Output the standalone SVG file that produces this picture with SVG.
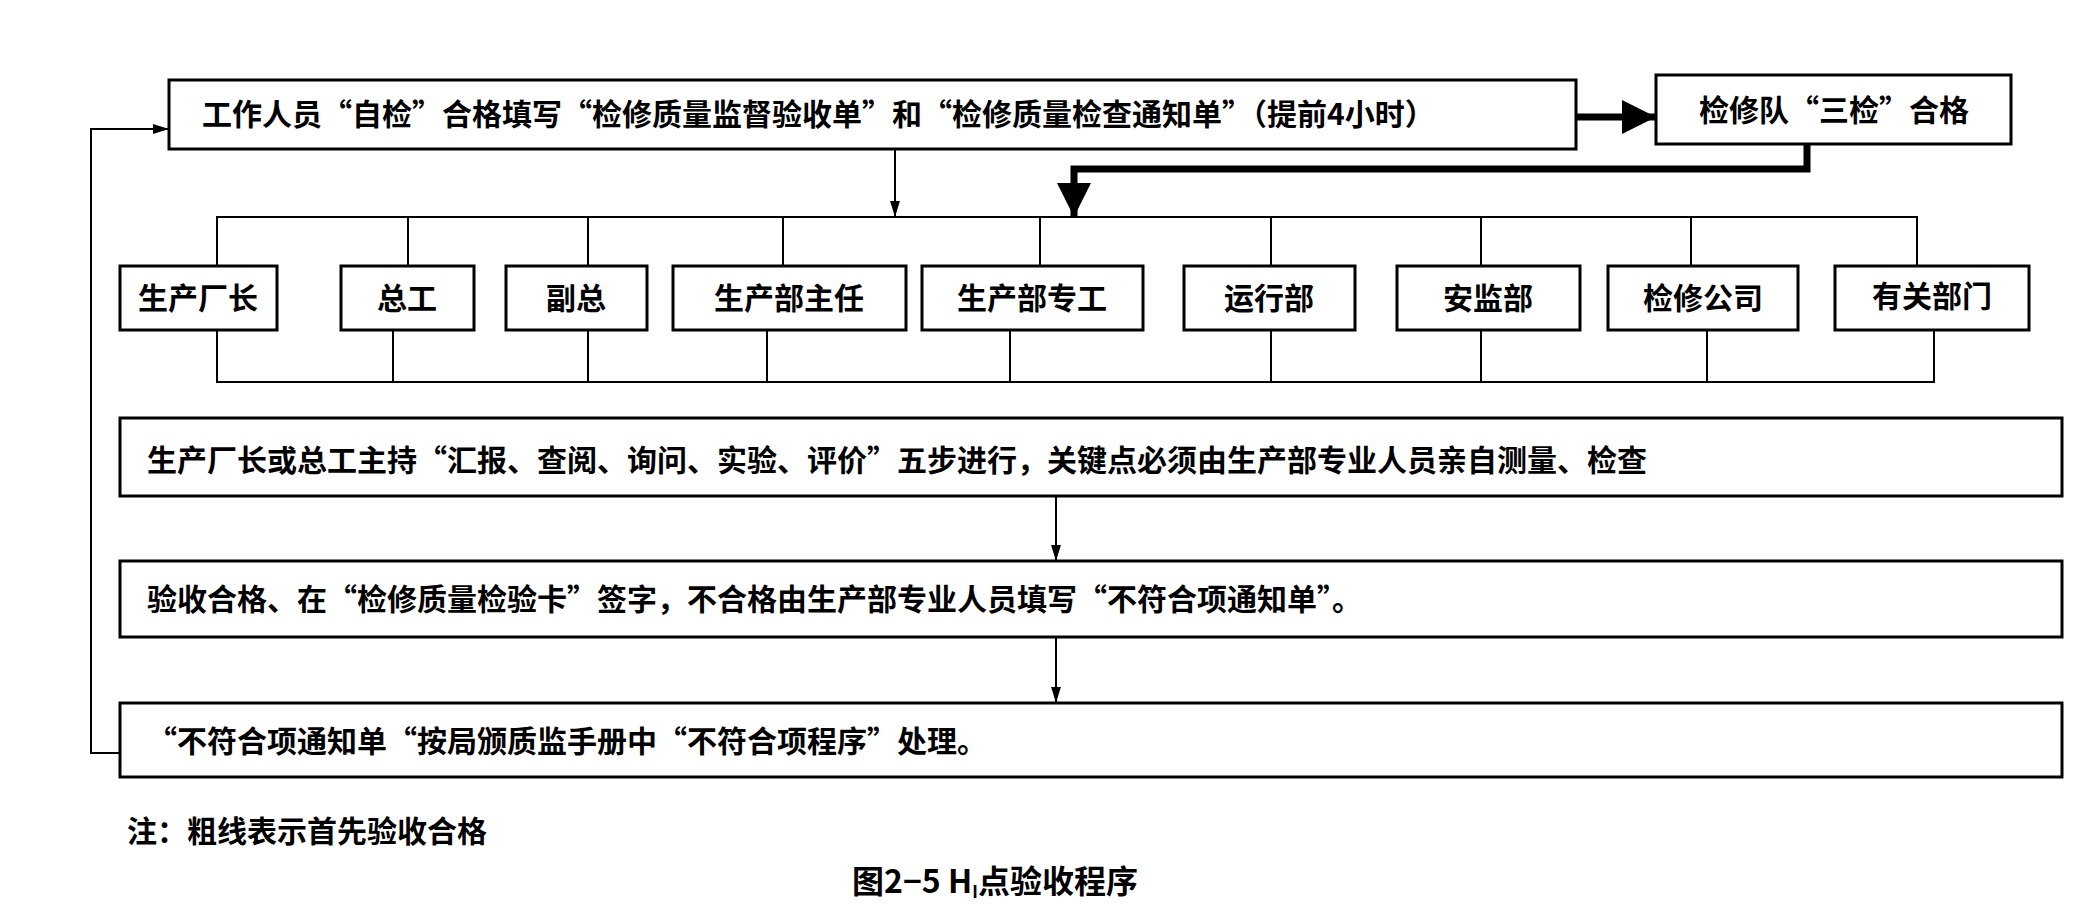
<svg xmlns="http://www.w3.org/2000/svg" width="2088" height="909" viewBox="0 0 2088 909">
<defs>
<style>
.b{fill:#fff;stroke:#000;stroke-width:3}
.t{font-family:"Noto Sans CJK SC",sans-serif;font-weight:bold;font-size:30px;fill:#000}
.c{text-anchor:middle}
.l{fill:none;stroke:#000;stroke-width:2}
.k{fill:none;stroke:#000;stroke-width:7}
</style>
<marker id="a" markerWidth="16" markerHeight="26" refX="26" refY="8" orient="auto" markerUnits="userSpaceOnUse" viewBox="0 0 26 16"><path d="M0,0L26,8L0,16z"/></marker>
<marker id="A" markerWidth="34" markerHeight="34" refX="34" refY="17" orient="auto" markerUnits="userSpaceOnUse" viewBox="0 0 34 34"><path d="M0,0L34,17L0,34z"/></marker>
</defs>
<g id="connectors">
<path class="l" d="M895,149V217" marker-end="url(#a)"/>
<path class="k" d="M1576,117H1656" marker-end="url(#A)"/>
<path class="k" d="M1807,144V169H1074V217" marker-end="url(#A)"/>
<path class="l" d="M217,266V217H1917V266M408,217V266M588,217V266M783,217V266M1040,217V266M1271,217V266M1481,217V266M1691,217V266"/>
<path class="l" d="M217,330V382H1934V330M393,330V382M588,330V382M767,330V382M1010,330V382M1271,330V382M1481,330V382M1707,330V382"/>
<path class="l" d="M1056,496V561" marker-end="url(#a)"/>
<path class="l" d="M1056,637V703" marker-end="url(#a)"/>
<path class="l" d="M120,753H91V129H169" marker-end="url(#a)"/>
</g>
<g id="n1"><rect class="b" x="169" y="80" width="1407" height="69"/><text class="t" x="202" y="125">工作人员“自检”合格填写“检修质量监督验收单”和“检修质量检查通知单”（提前4小时）</text></g>
<g id="n2"><rect class="b" x="1656" y="75" width="355" height="69"/><text class="t c" x="1834" y="121">检修队“三检”合格</text></g>
<g id="d1"><rect class="b" x="120" y="266" width="157" height="64"/><text class="t c" x="198" y="309">生产厂长</text></g>
<g id="d2"><rect class="b" x="341" y="266" width="133" height="64"/><text class="t c" x="407" y="309">总工</text></g>
<g id="d3"><rect class="b" x="506" y="266" width="141" height="64"/><text class="t c" x="576" y="309">副总</text></g>
<g id="d4"><rect class="b" x="673" y="266" width="233" height="64"/><text class="t c" x="789" y="309">生产部主任</text></g>
<g id="d5"><rect class="b" x="922" y="266" width="221" height="64"/><text class="t c" x="1032" y="309">生产部专工</text></g>
<g id="d6"><rect class="b" x="1184" y="266" width="171" height="64"/><text class="t c" x="1269" y="309">运行部</text></g>
<g id="d7"><rect class="b" x="1397" y="266" width="183" height="64"/><text class="t c" x="1488" y="309">安监部</text></g>
<g id="d8"><rect class="b" x="1608" y="266" width="190" height="64"/><text class="t c" x="1703" y="309">检修公司</text></g>
<g id="d9"><rect class="b" x="1835" y="266" width="194" height="64"/><text class="t c" x="1932" y="307">有关部门</text></g>
<g id="n3"><rect class="b" x="120" y="418" width="1942" height="78"/><text class="t" x="147" y="471">生产厂长或总工主持“汇报、查阅、询问、实验、评价”五步进行，关键点必须由生产部专业人员亲自测量、检查</text></g>
<g id="n4"><rect class="b" x="120" y="561" width="1942" height="76"/><text class="t" x="147" y="610">验收合格、在“检修质量检验卡”签字，不合格由生产部专业人员填写“不符合项通知单”。</text></g>
<g id="n5"><rect class="b" x="120" y="703" width="1942" height="74"/><text class="t" x="147" y="752">“不符合项通知单“按局颁质监手册中“不符合项程序”处理。</text></g>
<text class="t" x="127" y="842">注：粗线表示首先验收合格</text>
<text class="t c" x="995" y="893" style="font-size:32px">图2−5  H<tspan font-size="17" dy="5">I</tspan><tspan dy="-5">点验收程序</tspan></text>
</svg>
